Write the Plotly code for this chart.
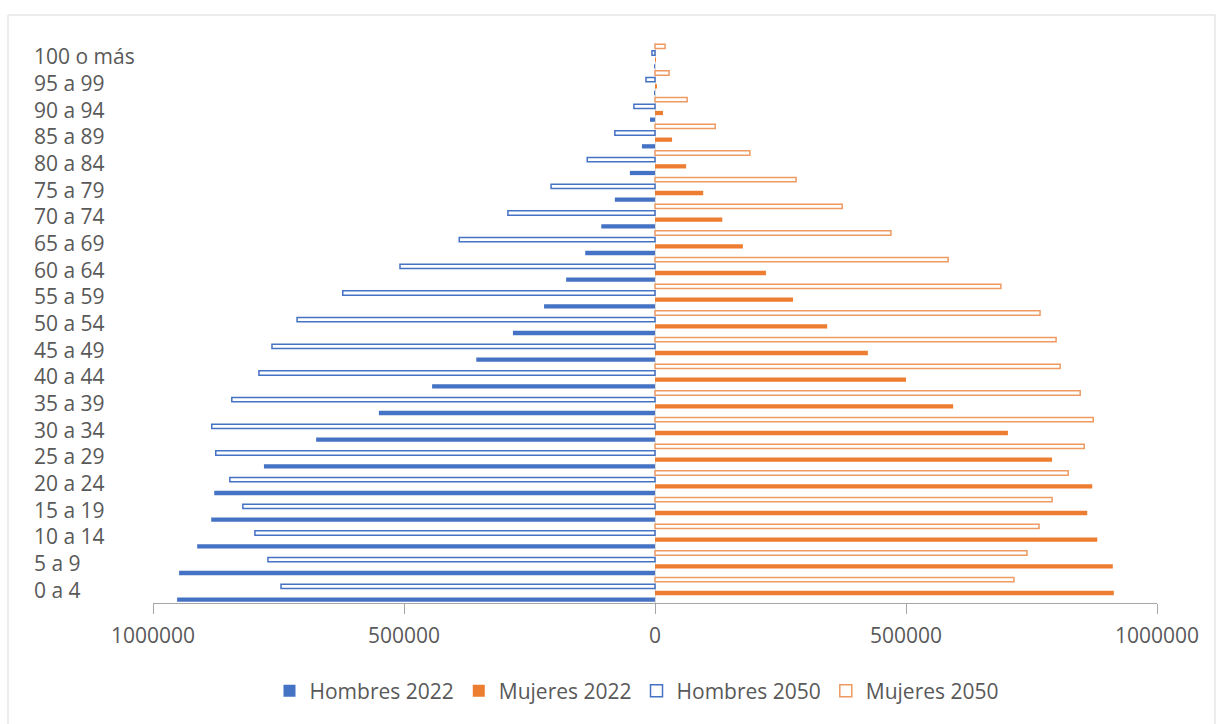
import plotly.graph_objects as go

# Age groups, youngest first (bottom of the pyramid)
grupos = ["0 a 4", "5 a 9", "10 a 14", "15 a 19", "20 a 24", "25 a 29", "30 a 34",
          "35 a 39", "40 a 44", "45 a 49", "50 a 54", "55 a 59", "60 a 64", "65 a 69",
          "70 a 74", "75 a 79", "80 a 84", "85 a 89", "90 a 94", "95 a 99", "100 o más"]

hombres_2022 = [952000, 948000, 912000, 884000, 878000, 779000, 675000, 550000, 444000,
                356000, 283000, 221000, 177000, 139000, 107000, 80000, 50000, 26000,
                10000, 2000, 600]
mujeres_2022 = [914000, 912000, 881000, 861000, 871000, 791000, 703000, 594000, 500000,
                424000, 343000, 275000, 221000, 175000, 134000, 96000, 62000, 34000,
                16000, 4000, 1000]
hombres_2050 = [745000, 771000, 797000, 821000, 847000, 875000, 883000, 843000, 789000,
                763000, 713000, 622000, 508000, 390000, 293000, 207000, 135000, 80000,
                42000, 18000, 6000]
mujeres_2050 = [715000, 741000, 765000, 791000, 823000, 855000, 873000, 847000, 807000,
                799000, 767000, 689000, 584000, 470000, 373000, 281000, 189000, 120000,
                64000, 28000, 20000]

tick_vals = [-1000000, -500000, 0, 500000, 1000000]
tick_text = ["1000000", "500000", "0", "500000", "1000000"]

AZUL = "#4472C4"
NARANJA = "#ED7D31"
GRIS = "#595959"
FUENTE = "Open Sans"
TAM = 21

fig = go.Figure()
fig.add_trace(go.Bar(y=grupos, x=[-v for v in hombres_2022], orientation="h",
                     name="Hombres 2022", marker=dict(color=AZUL, line=dict(width=0))))
fig.add_trace(go.Bar(y=grupos, x=mujeres_2022, orientation="h",
                     name="Mujeres 2022", marker=dict(color=NARANJA, line=dict(width=0))))
fig.add_trace(go.Bar(y=grupos, x=[-v for v in hombres_2050], orientation="h",
                     name="Hombres 2050",
                     marker=dict(color="white", line=dict(color=AZUL, width=1.5))))
fig.add_trace(go.Bar(y=grupos, x=mujeres_2050, orientation="h",
                     name="Mujeres 2050",
                     marker=dict(color="white", line=dict(color="#EE9A62", width=1.5))))

# Left-aligned age-group labels
L, R, T, B = 153, 59, 43, 121
W, H = 1216, 724
plot_w = W - L - R
plot_h = H - T - B
for g in grupos:
    fig.add_annotation(x=(32 - L) / plot_w, xref="paper", xanchor="left",
                       y=g, yref="y", yanchor="middle", text=g, showarrow=False,
                       font=dict(family=FUENTE, size=TAM, color=GRIS))

# Light frame around the chart area
fig.add_shape(type="rect", xref="paper", yref="paper",
              x0=(8 - L) / plot_w, x1=(1215 - L) / plot_w,
              y0=(plot_h + T - 740) / plot_h, y1=(plot_h + T - 15) / plot_h,
              line=dict(color="#d9d9d9", width=1), fillcolor="rgba(0,0,0,0)", layer="below")

fig.update_layout(
    width=W, height=H,
    margin=dict(l=L, r=R, t=T, b=B),
    paper_bgcolor="white", plot_bgcolor="white",
    barmode="group", bargap=0, bargroupgap=0.36,
    font=dict(family=FUENTE, size=TAM, color=GRIS),
    showlegend=True,
    legend=dict(orientation="h", x=(637 - L) / plot_w, xanchor="center",
                y=(plot_h + T - 691) / plot_h, yanchor="middle",
                traceorder="normal", font=dict(family=FUENTE, size=TAM, color=GRIS),
                itemwidth=30, bgcolor="rgba(0,0,0,0)"),
    xaxis=dict(range=[-1000000, 1000000], tickvals=tick_vals, ticktext=tick_text,
               showgrid=False, zeroline=True, zerolinecolor="#d9d9d9", zerolinewidth=1,
               showline=True, linecolor="#a6a6a6", linewidth=1,
               ticks="outside", ticklen=10, tickcolor="#a6a6a6", tickwidth=1,
               ticklabelstandoff=4,
               tickfont=dict(family=FUENTE, size=TAM, color=GRIS), fixedrange=True),
    yaxis=dict(type="category", categoryorder="array", categoryarray=grupos,
               showticklabels=False, showgrid=False, zeroline=False, showline=False,
               ticks="", range=[-0.5, len(grupos) - 0.5], fixedrange=True),
)

fig.write_html("out.html")
